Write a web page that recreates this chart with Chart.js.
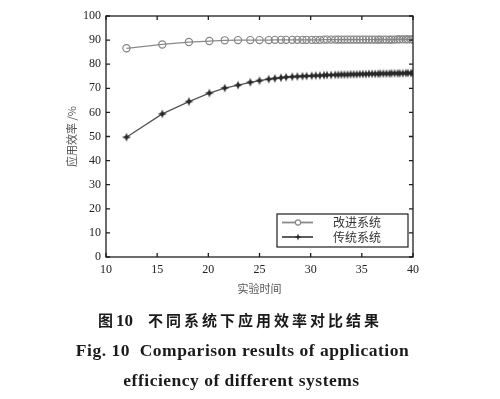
<!DOCTYPE html>
<html>
<head>
<meta charset="utf-8">
<script src="https://cdn.jsdelivr.net/npm/chart.js@4"></script>
<style>
  html, body { margin: 0; padding: 0; background: #fff; }
  #wrap { position: relative; width: 500px; height: 399px; overflow: hidden; }
  canvas { position: absolute; left: 0; top: 0; }
  .cap { position: absolute; white-space: nowrap; color: #1a1a1a; }
  #c1 { left: 98px; top: 310px; font: bold 15px "Noto Sans CJK SC"; line-height: 20px; }
  #c1 .cj { letter-spacing: 3px; }
  #c1 .num { font-family: "Liberation Serif"; font-size: 17px; }
  #c1 .gap { display: inline-block; width: 15px; }
  #c2 { left: 0; width: 485px; text-align: center; top: 340px; font: bold 17.5px "Liberation Serif"; letter-spacing: 0.5px; line-height: 20px; }
  #c3 { left: 0; width: 483px; text-align: center; top: 370px; font: bold 17.5px "Liberation Serif"; letter-spacing: 0.5px; line-height: 20px; }
</style>
</head>
<body>
<div id="wrap">
  <canvas id="chart" width="500" height="399"></canvas>
  <div class="cap" id="c1"><span class="cj">图</span><span class="num">10</span><span class="gap"></span><span class="cj">不同系统下应用效率对比结果</span></div>
  <div class="cap" id="c2">Fig. 10&nbsp;&nbsp;Comparison results of application</div>
  <div class="cap" id="c3">efficiency of different systems</div>
</div>
<script>
// ---- data ----
const xValues = [12, 15.5, 18.1, 20.1, 21.6, 22.9, 24.1, 25.0, 25.9, 26.5,
  27.1, 27.6, 28.2, 28.7, 29.2, 29.6, 30.1, 30.5, 30.9, 31.3,
  31.6, 32.0, 32.4, 32.7, 33.0, 33.3, 33.6, 33.9, 34.2, 34.5,
  34.8, 35.1, 35.4, 35.7, 36.0, 36.3, 36.6, 36.8, 37.1, 37.4,
  37.7, 37.9, 38.2, 38.5, 38.7, 39.0, 39.3, 39.5, 39.8, 40.0];
const improvedValues = [86.6, 88.2, 89.2, 89.6, 89.9, 90.0, 90.0, 90.0, 90.0, 90.1,
  90.1, 90.1, 90.1, 90.1, 90.1, 90.1, 90.1, 90.1, 90.1, 90.2,
  90.2, 90.2, 90.2, 90.2, 90.2, 90.2, 90.2, 90.2, 90.2, 90.2,
  90.2, 90.2, 90.2, 90.2, 90.2, 90.2, 90.2, 90.2, 90.2, 90.2,
  90.2, 90.2, 90.2, 90.3, 90.3, 90.3, 90.3, 90.3, 90.3, 90.3];
const traditionalValues = [49.7, 59.4, 64.5, 68.0, 70.1, 71.3, 72.5, 73.2, 73.8, 74.1,
  74.4, 74.6, 74.8, 74.9, 75.0, 75.1, 75.2, 75.3, 75.3, 75.4,
  75.5, 75.5, 75.6, 75.6, 75.7, 75.7, 75.7, 75.8, 75.8, 75.8,
  75.9, 75.9, 75.9, 76.0, 76.0, 76.0, 76.0, 76.1, 76.1, 76.1,
  76.1, 76.2, 76.2, 76.2, 76.2, 76.2, 76.3, 76.3, 76.3, 76.3];
const seriesLabels = ['改进系统', '传统系统'];
const xTicks = [10, 15, 20, 25, 30, 35, 40];
const yTicks = [0, 10, 20, 30, 40, 50, 60, 70, 80, 90, 100];
const xTitle = '实验时间';
const yTitle = '应用效率 /%';

// ---- star marker ----
function starPath(ctx, cx, cy, r) {
  const ri = r * 0.38;
  ctx.beginPath();
  for (let i = 0; i < 8; i++) {
    const a = -Math.PI / 2 + i * Math.PI / 4;
    const rr = i % 2 === 0 ? r : ri;
    const px = cx + rr * Math.cos(a), py = cy + rr * Math.sin(a);
    if (i === 0) ctx.moveTo(px, py); else ctx.lineTo(px, py);
  }
  ctx.closePath();
}
function makeStar(r, color) {
  const c = document.createElement('canvas');
  const s = Math.ceil(2 * r + 2);
  c.width = s; c.height = s;
  const g = c.getContext('2d');
  g.fillStyle = color;
  starPath(g, s / 2, s / 2, r);
  g.fill();
  g.beginPath();
  g.arc(s / 2, s / 2, r * 0.42, 0, Math.PI * 2);
  g.fill();
  return c;
}
const starImg = makeStar(4.6, '#2a2a2a');

const FRAME = '#1e1e1e';
const framePlugin = {
  id: 'frame',
  afterDraw(chart) {
    const { ctx, chartArea: a, scales } = chart;
    ctx.save();
    ctx.strokeStyle = FRAME;
    ctx.lineWidth = 1.3;
    ctx.strokeRect(a.left, a.top, a.right - a.left, a.bottom - a.top);
    const tl = 4;
    ctx.lineWidth = 1.3;
    ctx.beginPath();
    xTicks.forEach(v => {
      const px = scales.x.getPixelForValue(v);
      ctx.moveTo(px, a.bottom); ctx.lineTo(px, a.bottom - tl);
      ctx.moveTo(px, a.top); ctx.lineTo(px, a.top + tl);
    });
    yTicks.forEach(v => {
      const py = scales.y.getPixelForValue(v);
      ctx.moveTo(a.left, py); ctx.lineTo(a.left + tl, py);
      ctx.moveTo(a.right, py); ctx.lineTo(a.right - tl, py);
    });
    ctx.stroke();

    // legend
    const ds = chart.data.datasets;
    const bx = a.right - 136, by = a.bottom - 43, bw = 131, bh = 33;
    ctx.fillStyle = '#fff';
    ctx.fillRect(bx, by, bw, bh);
    ctx.strokeStyle = FRAME;
    ctx.lineWidth = 1.2;
    ctx.strokeRect(bx, by, bw, bh);
    const rows = [by + 8.5, by + 23];
    ds.forEach((d, i) => {
      const y = rows[i];
      ctx.strokeStyle = d.borderColor;
      ctx.lineWidth = d.borderWidth + 0.6;
      ctx.beginPath();
      ctx.moveTo(bx + 5, y); ctx.lineTo(bx + 36, y);
      ctx.stroke();
      if (i === 0) {
        ctx.fillStyle = '#fff';
        ctx.lineWidth = 1.1;
        ctx.strokeStyle = d.pointBorderColor;
        ctx.beginPath();
        ctx.arc(bx + 21, y, 2.6, 0, Math.PI * 2);
        ctx.fill(); ctx.stroke();
      } else {
        ctx.fillStyle = '#2a2a2a';
        starPath(ctx, bx + 21, y, 3.6);
        ctx.fill();
      }
      ctx.fillStyle = '#333';
      ctx.font = '12px "Noto Sans CJK SC"';
      ctx.textBaseline = 'middle';
      ctx.textAlign = 'left';
      ctx.fillText(d.label, bx + 56, y);
    });
    ctx.restore();
  }
};

new Chart(document.getElementById('chart'), {
  type: 'line',
  data: {
    datasets: [
      {
        label: seriesLabels[0],
        data: xValues.map((x, i) => ({ x, y: improvedValues[i] })),
        borderColor: '#8a8a8a',
        borderWidth: 1.2,
        pointStyle: 'circle',
        pointRadius: 3.6,
        pointBorderWidth: 1.2,
        pointBorderColor: '#858585',
        pointBackgroundColor: 'rgba(255,255,255,0)',
        fill: false,
        tension: 0
      },
      {
        label: seriesLabels[1],
        data: xValues.map((x, i) => ({ x, y: traditionalValues[i] })),
        borderColor: '#555',
        borderWidth: 1.3,
        pointStyle: starImg,
        pointRadius: 4,
        fill: false,
        tension: 0
      }
    ]
  },
  options: {
    responsive: false,
    animation: false,
    devicePixelRatio: 1,
    layout: { padding: { left: 0, top: 16, right: 87, bottom: 104 } },
    plugins: { legend: { display: false }, tooltip: { enabled: false } },
    scales: {
      x: {
        type: 'linear', min: 10, max: 40,
        afterBuildTicks: s => { s.ticks = xTicks.map(v => ({ value: v })); },
        afterFit: s => { s.height = 38; },
        ticks: { color: '#222', font: { family: 'Liberation Serif', size: 12 }, padding: 6, maxRotation: 0 },
        grid: { display: false, drawTicks: false },
        border: { display: false },
        title: { display: true, text: xTitle, color: '#555', font: { family: 'Noto Sans CJK SC', size: 11 }, padding: { top: 0, bottom: 0 } }
      },
      y: {
        min: 0, max: 100,
        afterBuildTicks: s => { s.ticks = yTicks.map(v => ({ value: v })); },
        afterFit: s => { s.width = 106; },
        ticks: { color: '#222', font: { family: 'Liberation Serif', size: 12 }, padding: 5 },
        grid: { display: false, drawTicks: false },
        border: { display: false },
        title: { display: true, text: yTitle, color: '#555', font: { family: 'Noto Sans CJK SC', size: 11 }, padding: { top: 65, bottom: 0 } }
      }
    }
  },
  plugins: [framePlugin]
});
</script>
</body>
</html>
